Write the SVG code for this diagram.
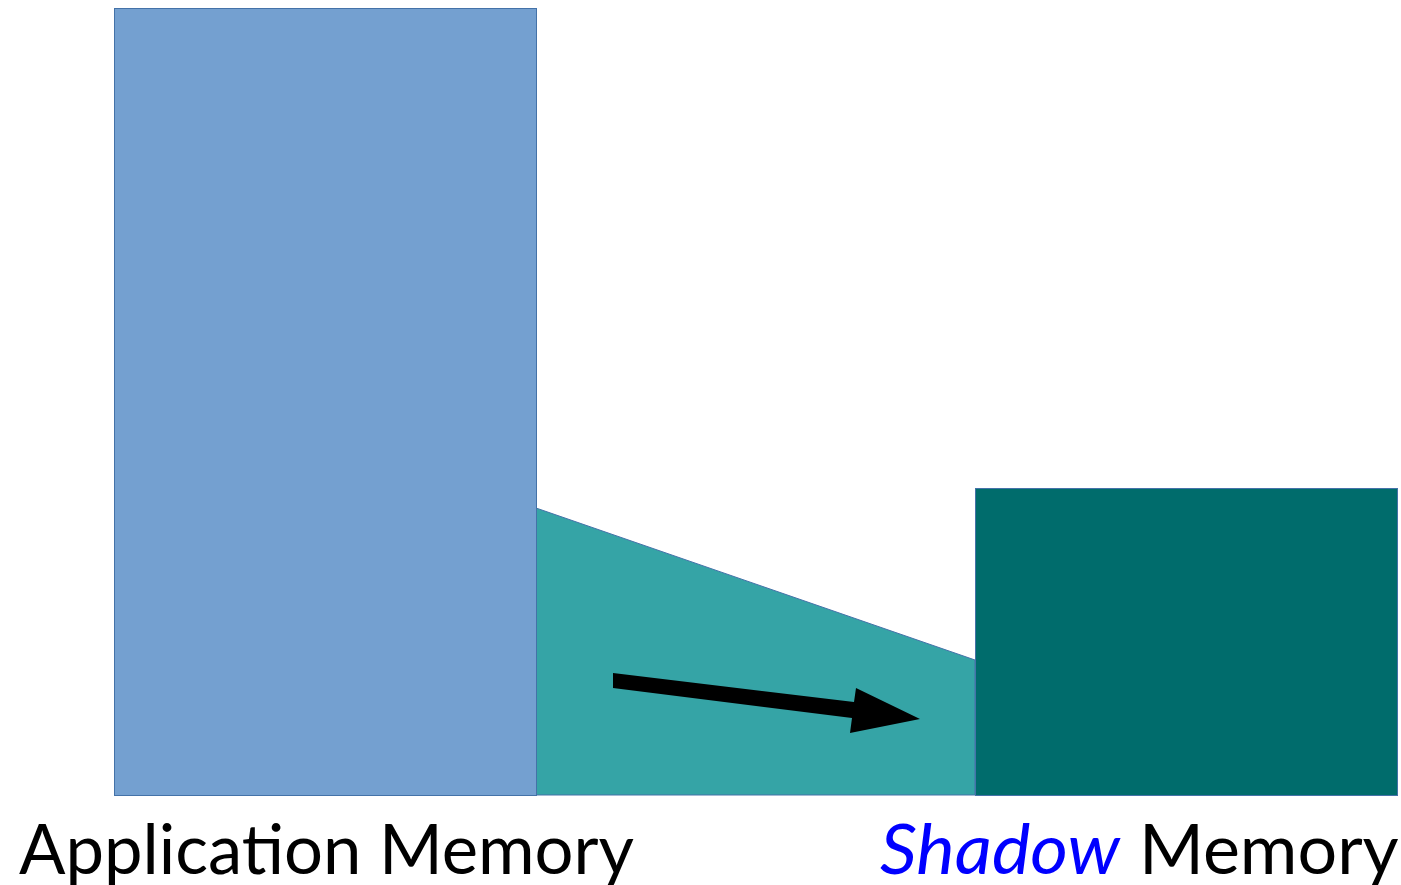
<svg xmlns="http://www.w3.org/2000/svg" width="1401" height="885" viewBox="0 0 1401 885">
  <style>
    .edge { stroke: #4472A8; stroke-width: 1; }
    .label { font-family: Lato, "Noto Sans", sans-serif; font-size: 70px; fill: #000000; }
    .shadow { font-style: italic; fill: #0000FF; }
  </style>
  <rect x="0" y="0" width="1401" height="885" fill="#FFFFFF"/>

  <!-- mapping band between the two regions -->
  <g id="mapping">
    <polygon class="edge" points="536,508 975,660 975,795 536,795" fill="#35A4A6"/>
  </g>

  <g id="application-memory">
    <rect class="edge" x="114.5" y="8.5" width="422" height="787" fill="#74A0D0"/>
    <text class="label" x="19" y="874" textLength="615" lengthAdjust="spacingAndGlyphs">Application Memory</text>
  </g>

  <g id="shadow-memory">
    <rect class="edge" x="975.5" y="488.5" width="422" height="307" fill="#006C6C"/>
    <text class="label" y="874"><tspan class="shadow" x="880" textLength="240" lengthAdjust="spacingAndGlyphs">Shadow</tspan><tspan x="1139">Memory</tspan></text>
  </g>

  <g id="connectors">
    <polygon points="613,673 854,702 856,688 920,719 850,733 852,718 613,688" fill="#000000"/>
  </g>
</svg>
